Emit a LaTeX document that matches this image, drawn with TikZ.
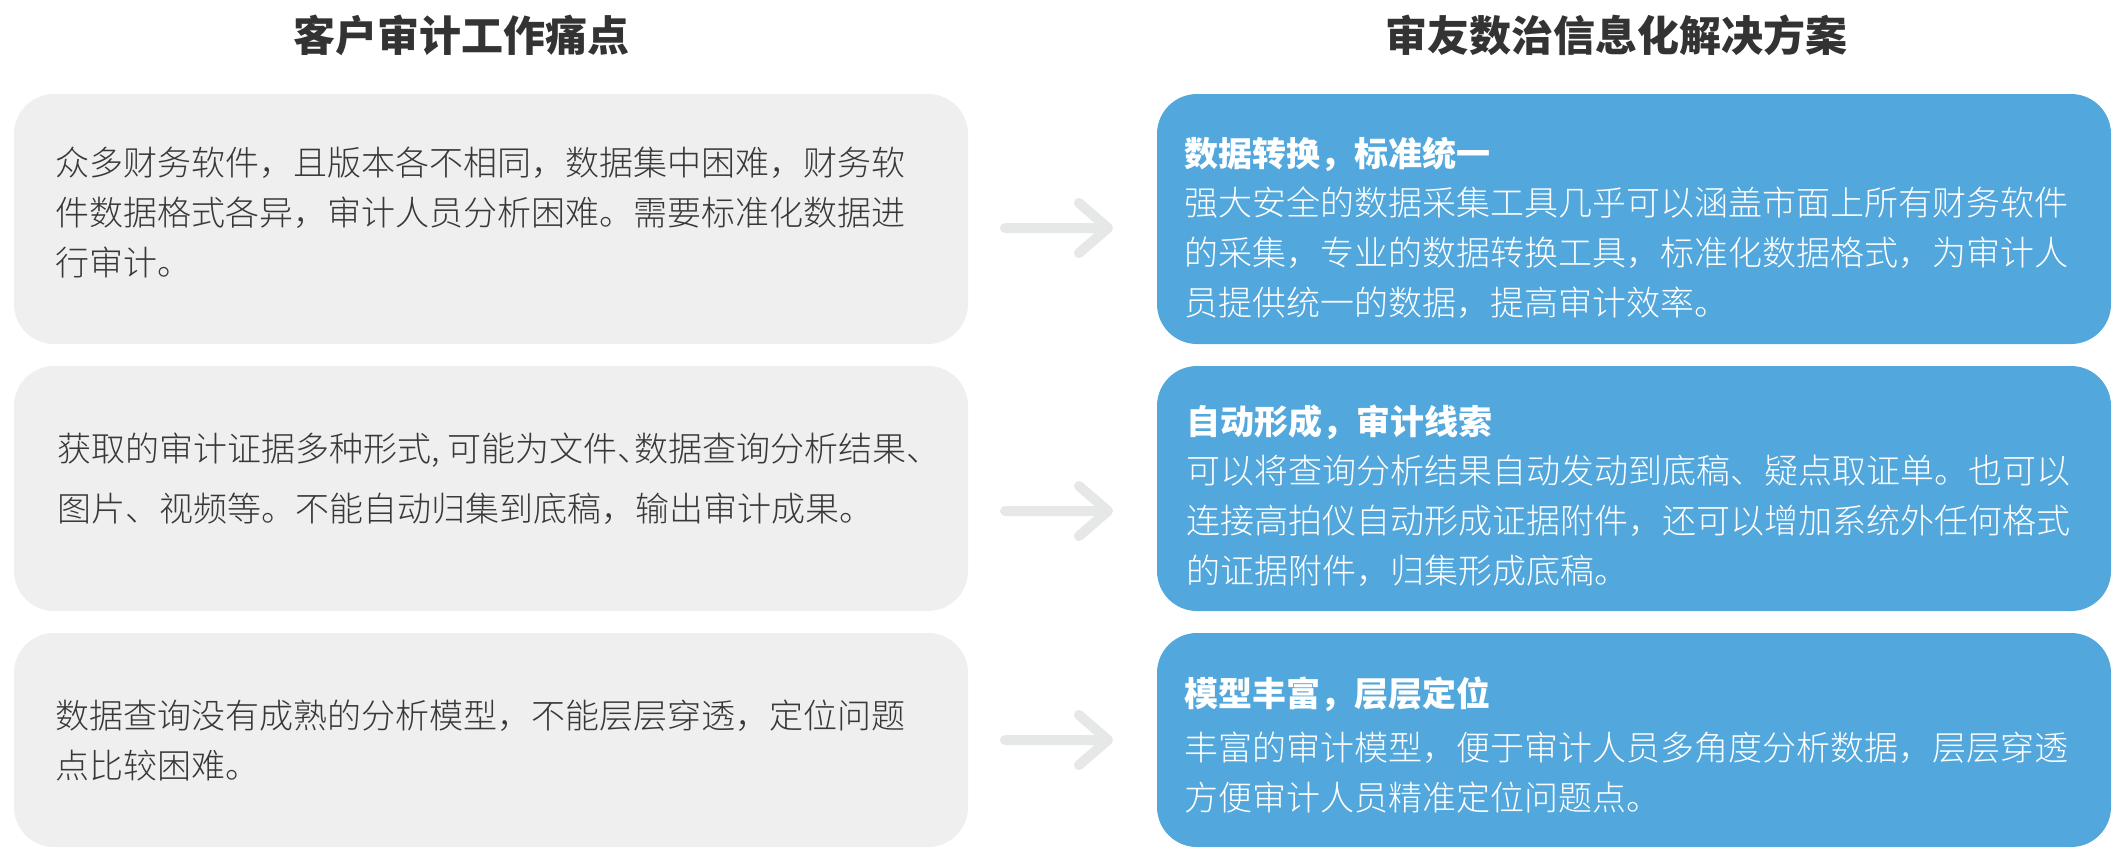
\documentclass[tikz,border=0pt]{standalone}
\usepackage{fontspec}
\setmainfont{Noto Sans CJK SC}
\newfontfamily\lightcjk{Noto Sans CJK SC Light}
\definecolor{boxgray}{HTML}{EFEFEF}
\definecolor{boxblue}{HTML}{52A7DC}
\definecolor{arrgray}{HTML}{E6E7E7}
\definecolor{titlecol}{HTML}{333333}
\definecolor{bodycol}{HTML}{383838}
\begin{document}
\begin{tikzpicture}[x=1pt,y=-1pt,
  graybox/.style={fill=boxgray, draw=none, rounded corners=40pt, minimum width=954pt, inner sep=0pt},
  bluebox/.style={fill=boxblue, draw=none, rounded corners=40pt, minimum width=954pt, inner sep=0pt},
  title/.style={font=\bfseries\fontsize{42}{50}\selectfont, text=titlecol, inner sep=0pt},
  body/.style={font=\lightcjk\fontsize{34}{50}\selectfont, text=bodycol, align=left, inner sep=0pt, anchor=north west},
  whead/.style={font=\bfseries\fontsize{34}{50}\selectfont, text=white, inner sep=0pt, anchor=north west},
  wbody/.style={body, text=white},
  arr/.style={draw=arrgray, line width=10pt, line cap=round, line join=round}]
\useasboundingbox (0,0) rectangle (2120,860);
% titles
\node[title] (t1) at (461,35) {客户审计工作痛点};
\node[title] (t2) at (1616,35) {审友数治信息化解决方案};
% boxes
\node[graybox, minimum height=250pt] (l1) at (491,219) {};
\node[graybox, minimum height=245pt] (l2) at (491,488.5) {};
\node[graybox, minimum height=214pt] (l3) at (491,740) {};
\node[bluebox, minimum height=250pt] (r1) at (1634,219) {};
\node[bluebox, minimum height=245pt] (r2) at (1634,488.5) {};
\node[bluebox, minimum height=214pt] (r3) at (1634,740) {};
% left texts
\node[body] (l1t) at (55,147) {众多财务软件，且版本各不相同，数据集中困难，财务软\\件数据格式各异，审计人员分析困难。需要标准化数据进\\行审计。};
\node[body, font=\lightcjk\fontsize{34}{60}\selectfont] (l2t) at (57,433) {获取的审计证据多种形式, 可能为文件\makebox[0.5em][l]{、}数据查询分析结果、\\图片、视频等。不能自动归集到底稿，输出审计成果。};
\node[body] (l3t) at (55,700) {数据查询没有成熟的分析模型，不能层层穿透，定位问题\\点比较困难。};
% right texts
\node[whead] (r1h) at (1184,137) {数据转换，标准统一};
\node[wbody] (r1t) at (1184,187) {强大安全的数据采集工具几乎可以涵盖市面上所有财务软件\\的采集，专业的数据转换工具，标准化数据格式，为审计人\\员提供统一的数据，提高审计效率。};
\node[whead] (r2h) at (1186,405) {自动形成，审计线索};
\node[wbody] (r2t) at (1186,455) {可以将查询分析结果自动发动到底稿、疑点取证单。也可以\\连接高拍仪自动形成证据附件，还可以增加系统外任何格式\\的证据附件，归集形成底稿。};
\node[whead] (r3h) at (1184,677) {模型丰富，层层定位};
\node[wbody] (r3t) at (1184,732) {丰富的审计模型，便于审计人员多角度分析数据，层层穿透\\方便审计人员精准定位问题点。};
% arrows
\coordinate (a1s) at (1005,228); \coordinate (a1e) at (1108,228);
\coordinate (a2s) at (1005,511); \coordinate (a2e) at (1108,511);
\coordinate (a3s) at (1005,740); \coordinate (a3e) at (1108,740);
\draw[arr] (a1s) -- (a1e) ++(-29,-25) -- (a1e) -- ++(-29,25);
\draw[arr] (a2s) -- (a2e) ++(-29,-25) -- (a2e) -- ++(-29,25);
\draw[arr] (a3s) -- (a3e) ++(-29,-25) -- (a3e) -- ++(-29,25);
\end{tikzpicture}
\end{document}
